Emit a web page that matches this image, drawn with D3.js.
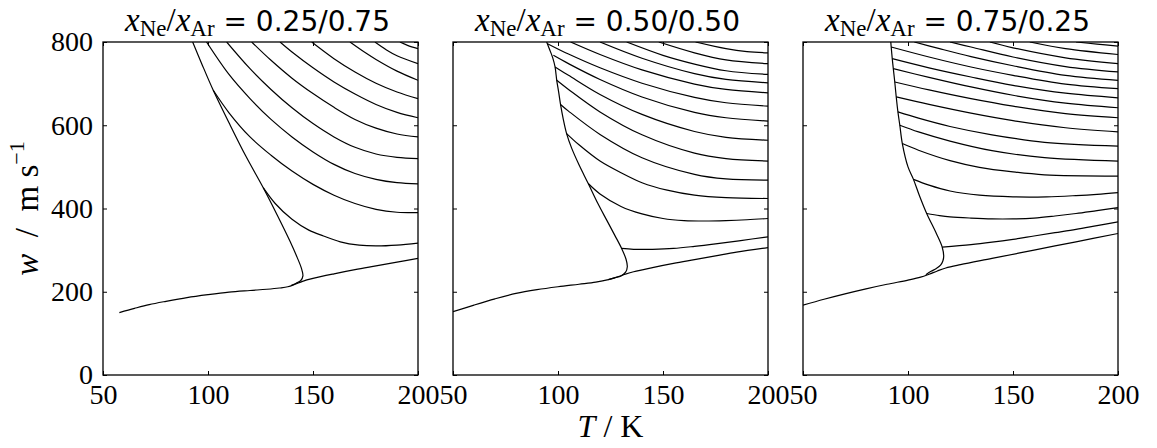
<!DOCTYPE html>
<html><head><meta charset="utf-8">
<script src="https://cdn.jsdelivr.net/npm/d3@7"></script>
<style>body{margin:0;background:#fff}</style>
</head><body><svg id="c" width="1157" height="448"></svg>
<script>
// ---------- data (T / K, w / m s^-1) ----------
const tempTicks = [50, 100, 150, 200];
const speedTicks = [0, 200, 400, 600, 800];
const fractions = [["0.25", "0.75"], ["0.50", "0.50"], ["0.75", "0.25"]];

// Panel 1: xNe/xAr = 0.25/0.75
const p1Boundary = [[92.7,800],[97,748],[102.5,684],[110,606],[118,526],[126.3,450],[133,384],[139,322],[142.5,282],[144.5,256],[145.2,238],[144.2,227],[142,220.5],[139.5,215]];
const p1Lower = [[57.8,150],[65,160],[72,169],[80,177],[90,186],[100,193],[110,199],[120,203],[128,206],[134,209],[138,212],[141.5,218],[145,225],[150,232],[160,243],[170,253],[180,262],[190,271],[200,280]];
const p1Isobars = [
  [[126.3,450],[132,412],[140,374],[148,348],[155,334],[163,320],[172,312],[180,310],[190,312],[200,317]],
  [[102.5,684],[110,630],[120,572],[130,528],[140,490],[150,458],[160,432],[170,412],[180,398],[190,391],[200,390]],
  [[99.3,800],[110,722],[120,664],[130,614],[140,572],[150,536],[160,506],[170,484],[180,470],[190,462],[200,459]],
  [[108.9,800],[120,736],[130,686],[140,642],[150,604],[160,572],[170,547],[180,531],[190,523],[200,520]],
  [[120.8,800],[130,756],[140,713],[150,676],[160,643],[170,614],[180,593],[190,579],[200,572]],
  [[134.3,800],[140,776],[150,738],[160,704],[170,675],[180,650],[190,631],[200,618]],
  [[149.4,800],[160,760],[170,728],[180,701],[190,680],[200,664]],
  [[167.6,800],[175,774],[180,758],[190,730],[200,708]],
  [[179.5,800],[185,781],[190,767],[200,748]],
  [[191.4,800],[195,792],[200,784]]
];

// Panel 2: xNe/xAr = 0.50/0.50
const p2Boundary = [[94.6,800],[96,782],[97.5,762],[98.6,740],[99.4,708],[100.3,680],[101.2,650],[102.5,615],[104.1,580],[106.5,545],[110,505],[114.4,460],[119,412],[123.2,372],[127,336],[130.3,304],[132.4,278],[133,260],[132.2,247],[130,238],[127,233.5],[124,229]];
const p2Lower = [[50,152],[60,168],[70,183],[80,196],[90,205],[100,212],[110,218],[118,223],[124,229],[128,235],[132,242],[136,248],[145,258],[155,268],[165,277],[175,286],[185,295],[200,306]];
const p2Isobars = [
  [[130.3,304],[136,302],[145,302],[155,304],[165,309],[175,315],[187,323],[200,332]],
  [[114.4,460],[120,435],[130,405],[140,387],[150,376],[160,371],[170,370],[180,371],[190,373],[200,376]],
  [[104.1,580],[110,553],[120,514],[130,486],[140,462],[152,444],[165,432],[180,426],[200,424]],
  [[101.2,650],[105,634],[120,578],[140,522],[165,482],[180,471],[200,468]],
  [[99.4,708],[105,686],[120,632],[140,577],[165,533],[180,520],[200,514]],
  [[98.6,740],[105,720],[120,674],[140,626],[165,585],[180,571],[200,564]],
  [[97.8,768],[105,748],[120,710],[140,668],[165,631],[180,618],[200,610]],
  [[95,796],[105,771],[120,738],[140,701],[165,667],[180,654],[200,646]],
  [[106,800],[120,770],[140,733],[165,699],[180,686],[200,678]],
  [[120,800],[140,761],[165,724],[180,710],[200,702]],
  [[132.7,800],[150,768],[165,747],[180,731],[200,722]],
  [[148,800],[165,774],[180,757],[200,748]],
  [[165.5,800],[180,784],[190,777],[200,774]]
];

// Panel 3: xNe/xAr = 0.75/0.25
const p3Boundary = [[91.8,800],[92,788],[92.5,760],[93,736],[93.7,704],[94.4,668],[95.2,632],[96.1,600],[97.3,556],[100,500],[102.6,470],[105.5,430],[108.9,388],[113.5,340],[116.3,307],[117,285],[116.6,274],[115.5,264],[113.5,256],[111,249],[108.5,241]];
const p3Lower = [[50,168],[60,182],[70,195],[80,207],[90,218],[100,228],[106,235],[110,242],[114,250],[118,257],[125,265],[140,280],[160,300],[180,320],[200,340]];
const p3Isobars = [
  [[116.3,307],[130,313],[140,319],[150,326],[160,334],[170,342],[180,350],[190,359],[200,368]],
  [[108.9,388],[115,383],[120,380],[130,377],[140,375],[150,375],[160,377],[170,382],[180,388],[190,395],[200,402]],
  [[102.6,470],[110,456],[120,442],[134,432],[150,428],[166,428],[180,431],[190,434],[200,438]],
  [[97.3,556],[105,540],[120,515],[134,499],[150,488],[165,481],[200,478]],
  [[96.1,600],[105,584],[120,562],[140,539],[165,522],[200,514]],
  [[95.2,632],[105,617],[120,597],[140,577],[165,559],[200,550]],
  [[94.4,668],[110,650],[130,629],[150,611],[175,594],[200,584]],
  [[93.7,704],[110,685],[130,664],[150,646],[175,628],[200,618]],
  [[93,736],[110,715],[130,692],[150,672],[175,653],[200,642]],
  [[92.5,760],[110,738],[130,716],[150,696],[175,677],[200,666]],
  [[92,788],[110,764],[130,740],[150,720],[175,699],[200,688]],
  [[103,800],[115,784],[130,765],[150,743],[175,720],[200,708]],
  [[120,800],[130,788],[150,764],[175,741],[200,728]],
  [[139,800],[150,786],[175,762],[200,748]],
  [[158,800],[175,784],[200,770]],
  [[180,800],[190,795],[200,790]]
];

const panels = [
  {boundary: p1Boundary, lower: p1Lower, isobars: p1Isobars},
  {boundary: p2Boundary, lower: p2Lower, isobars: p2Isobars},
  {boundary: p3Boundary, lower: p3Lower, isobars: p3Isobars}
];

// ---------- drawing ----------
const svg = d3.select("#c");
const W = 315, H = 333, TOP = 42;
const lefts = [103, 453, 803];
const serif = "'Liberation Serif', 'Times New Roman', serif";
const sans = "'DejaVu Sans', sans-serif";

const x = d3.scaleLinear().domain([50, 200]).range([0, W]);
const y = d3.scaleLinear().domain([0, 800]).range([H, 0]);
const line = d3.line().x(d => x(d[0])).y(d => y(d[1])).curve(d3.curveCatmullRom.alpha(0.5));

panels.forEach((p, i) => {
  const g = svg.append("g").attr("transform", `translate(${lefts[i]},${TOP})`);
  g.append("clipPath").attr("id", "clip" + i).append("rect").attr("width", W).attr("height", H);
  const cg = g.append("g").attr("clip-path", `url(#clip${i})`);
  [p.boundary, p.lower, ...p.isobars].forEach(c => {
    cg.append("path").attr("d", line(c)).attr("fill", "none")
      .attr("stroke", "#000").attr("stroke-width", 1.2).attr("stroke-linejoin", "round");
  });

  const bottom = g.append("g").attr("transform", `translate(0,${H})`)
    .call(d3.axisBottom(x).tickValues(tempTicks).tickSize(-4).tickPadding(9));
  const topAx = g.append("g").call(d3.axisTop(x).tickValues(tempTicks).tickSize(-4).tickFormat(() => ""));
  const leftAx = g.append("g").call(d3.axisLeft(y).tickValues(speedTicks).tickSize(-4).tickPadding(10)
    .tickFormat(i === 0 ? d3.format("d") : () => ""));
  const rightAx = g.append("g").attr("transform", `translate(${W},0)`)
    .call(d3.axisRight(y).tickValues(speedTicks).tickSize(-4).tickFormat(() => ""));
  [bottom, topAx, leftAx, rightAx].forEach(a => {
    a.attr("font-family", null).attr("font-size", null);
    a.select(".domain").remove();
    a.selectAll(".tick line").attr("stroke", "#000").attr("stroke-width", 1);
    a.selectAll("text").style("font-family", serif).style("font-size", "28px").attr("fill", "#000");
  });

  g.append("rect").attr("width", W).attr("height", H).attr("fill", "none")
    .attr("stroke", "#000").attr("stroke-width", 1.3);

  // title
  const t = svg.append("text").attr("x", lefts[i] + W / 2 - 3).attr("y", 31).attr("text-anchor", "middle").attr("fill", "#000");
  t.append("tspan").style("font-family", serif).style("font-style", "italic").style("font-size", "33px").text("x");
  t.append("tspan").style("font-family", serif).style("font-size", "23px").attr("dy", 5).text("Ne");
  t.append("tspan").style("font-family", serif).style("font-size", "33px").attr("dy", -5).text("/");
  t.append("tspan").style("font-family", serif).style("font-style", "italic").style("font-size", "33px").text("x");
  t.append("tspan").style("font-family", serif).style("font-size", "23px").attr("dy", 5).text("Ar");
  t.append("tspan").style("font-family", sans).style("font-size", "28px").attr("dy", -5).text("\u00a0= " + fractions[i][0] + "/" + fractions[i][1]);
});

// axis labels
const xl = svg.append("text").attr("x", lefts[1] + W / 2).attr("y", 437).attr("text-anchor", "middle")
  .style("font-family", serif).style("font-size", "32px").attr("fill", "#000");
xl.append("tspan").style("font-style", "italic").text("T");
xl.append("tspan").text(" / K");

const yl = svg.append("text").attr("transform", `translate(38,${TOP + H / 2}) rotate(-90)`)
  .attr("text-anchor", "middle").style("font-family", serif).style("font-size", "33px").attr("fill", "#000");
yl.append("tspan").style("font-style", "italic").text("w");
yl.append("tspan").text("\u2002/\u2002m s");
yl.append("tspan").style("font-size", "22px").attr("dy", -14).text("\u22121");
</script></body></html>
